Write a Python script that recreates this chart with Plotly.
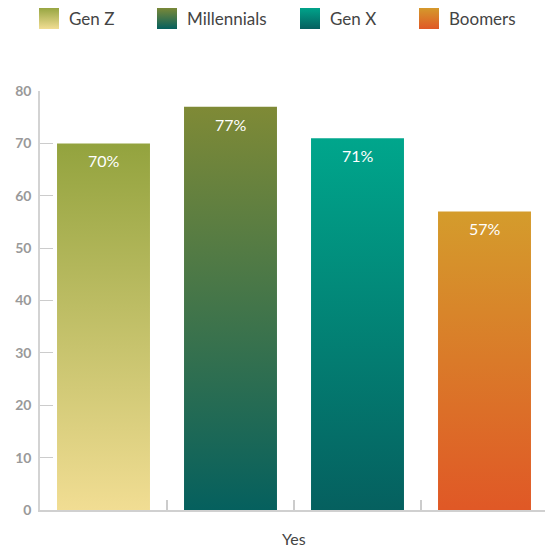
import plotly.graph_objects as go

# ---- data ----
generations = ["Gen Z", "Millennials", "Gen X", "Boomers"]
values = [70, 77, 71, 57]
value_labels = ["70%", "77%", "71%", "57%"]
category = "Yes"
color_top = ["#93a33e", "#7f8a36", "#00a68c", "#d49c2c"]
color_bottom = ["#f1dd93", "#05605e", "#05605f", "#e05826"]
y_ticks = [0, 10, 20, 30, 40, 50, 60, 70, 80]

# ---- layout constants (reference pixel coordinates) ----
OFF = 8                      # page body margin
W, H = 553 - OFF, 548 - OFF  # figure size so it fills the window
plot_l, plot_r, plot_t, plot_b = 40 - OFF, 548 - OFF, 91 - OFF, 510 - OFF
bar_half = 0.366
font_family = "Lato, 'Noto Sans', sans-serif"

# legend layout (pixel positions, reference coords)
sw_x = [39, 157, 300, 419]
sw_w, sw_top, sw_bot = 20, 7, 29
txt_dx = 28

fig = go.Figure()

for i, (g, v) in enumerate(zip(generations, values)):
    x0, x1 = i - bar_half, i + bar_half
    fig.add_trace(go.Scatter(
        x=[x0, x1, x1, x0, x0], y=[0, 0, v, v, 0],
        mode="lines", fill="toself", line=dict(width=0, color="rgba(0,0,0,0)"),
        fillgradient=dict(type="vertical", start=0, stop=v,
                          colorscale=[[0, color_bottom[i]], [1, color_top[i]]]),
        name=g, showlegend=False, hoverinfo="skip",
        xaxis="x", yaxis="y",
    ))
    fig.add_annotation(x=i, y=v, xref="x", yref="y", text=value_labels[i],
                       showarrow=False, yanchor="top", yshift=-6,
                       font=dict(family=font_family, size=16, color="white"))

# custom legend with gradient swatches (x2/y2 axes are in reference pixels)
for i, g in enumerate(generations):
    x0, x1 = sw_x[i], sw_x[i] + sw_w
    fig.add_trace(go.Scatter(
        x=[x0, x1, x1, x0, x0], y=[sw_bot, sw_bot, sw_top, sw_top, sw_bot],
        mode="lines", fill="toself", line=dict(width=0, color="rgba(0,0,0,0)"),
        fillgradient=dict(type="vertical", start=sw_bot, stop=sw_top,
                          colorscale=[[0, color_bottom[i]], [1, color_top[i]]]),
        showlegend=False, hoverinfo="skip", xaxis="x2", yaxis="y2",
    ))
    fig.add_annotation(x=x0 + txt_dx, y=(sw_top + sw_bot) / 2, xref="x2", yref="y2",
                       text=g, showarrow=False, xanchor="left", yanchor="middle",
                       font=dict(family=font_family, size=17, color="#444444"))

# category label under the axis
fig.add_annotation(x=1.5, y=0, xref="x", yref="y", text=category, showarrow=False,
                   yanchor="top", yshift=-17,
                   font=dict(family=font_family, size=16, color="#444444"))

LEG_H = 40
fig.update_layout(
    width=W, height=H,
    margin=dict(l=0, r=0, t=0, b=0, autoexpand=False),
    paper_bgcolor="white", plot_bgcolor="white",
    showlegend=False,
    xaxis=dict(
        domain=[plot_l / W, plot_r / W], range=[-0.5, 3.5], automargin=False,
        tickmode="array", tickvals=[0.5, 1.5, 2.5, 3.5], ticktext=[""] * 4,
        ticks="inside", ticklen=10, tickwidth=1.5, tickcolor="#cccccc",
        showline=True, linecolor="#d0d0d0", linewidth=1.5,
        showgrid=False, zeroline=False, fixedrange=True,
    ),
    # overlay axis: darker start tick at the origin
    xaxis3=dict(
        overlaying="x", matches="x", anchor="y", side="bottom", automargin=False,
        tickmode="array", tickvals=[-0.5], ticktext=[""],
        ticks="inside", ticklen=12, tickwidth=2, tickcolor="#9a9a9a",
        showline=False, showgrid=False, zeroline=False, fixedrange=True,
    ),
    yaxis=dict(
        domain=[(H - plot_b) / H, (H - plot_t) / H], range=[0, 80], automargin=False,
        tickmode="array", tickvals=y_ticks,
        ticks="inside", ticklen=13, tickwidth=1.2, tickcolor="#cccccc",
        showline=True, linecolor="#d3d3d3", linewidth=1.5,
        showgrid=False, zeroline=False, fixedrange=True,
        ticklabelstandoff=4,
        tickfont=dict(family=font_family, size=14, color="#999999", weight="bold"),
    ),
    xaxis2=dict(domain=[0, 1], range=[OFF, OFF + W], visible=False, fixedrange=True,
                anchor="y2", automargin=False),
    yaxis2=dict(domain=[(H - LEG_H) / H, 1], range=[OFF + LEG_H, OFF], visible=False,
                fixedrange=True, anchor="x2", automargin=False),
)
# a hidden trace so the overlay axis is drawn
fig.add_trace(go.Scatter(x=[None], y=[None], xaxis="x3", yaxis="y",
                         showlegend=False, hoverinfo="skip"))

fig.write_html("out.html")
